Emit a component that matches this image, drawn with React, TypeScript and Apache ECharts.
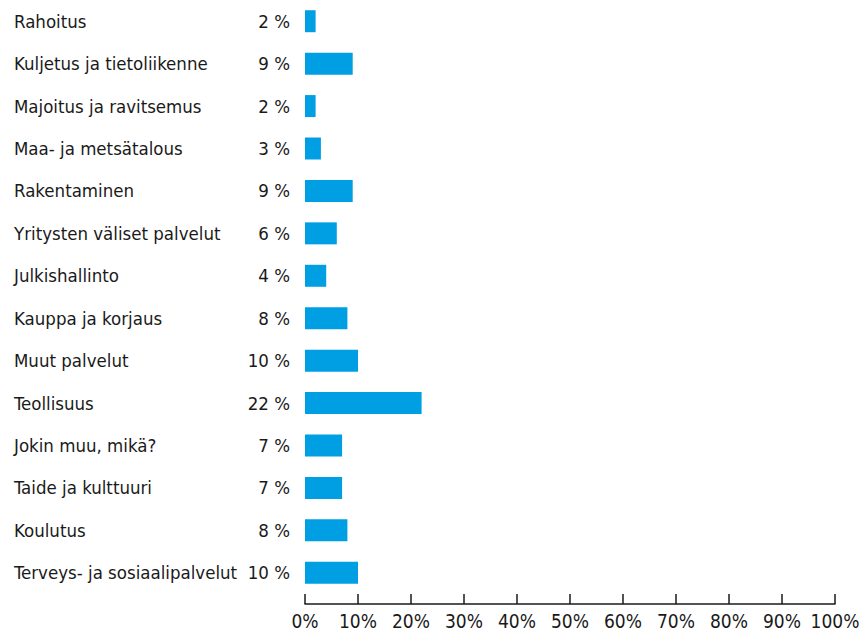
import React, { useEffect, useRef } from "react";
import * as echarts from "echarts";

const categories: string[] = [
  "Rahoitus",
  "Kuljetus ja tietoliikenne",
  "Majoitus ja ravitsemus",
  "Maa- ja metsätalous",
  "Rakentaminen",
  "Yritysten väliset palvelut",
  "Julkishallinto",
  "Kauppa ja korjaus",
  "Muut palvelut",
  "Teollisuus",
  "Jokin muu, mikä?",
  "Taide ja kulttuuri",
  "Koulutus",
  "Terveys- ja sosiaalipalvelut",
];

const values: number[] = [2, 9, 2, 3, 9, 6, 4, 8, 10, 22, 7, 7, 8, 10];

const axisMin = 0;
const axisMax = 100;
const axisStep = 10;

const FONT = '"Liberation Sans Narrow", "DejaVu Sans Condensed", "Noto Sans", sans-serif';
const TEXT = "#1a1a1a";
const BAR = "#009fe3";

export default function App() {
  const ref = useRef<HTMLDivElement>(null);

  useEffect(() => {
    if (!ref.current) return;
    const chart = echarts.init(ref.current, undefined, { renderer: "svg" });
    chart.setOption({
      animation: false,
      grid: { left: 305, right: 28, top: -3, bottom: 38, containLabel: false },
      xAxis: {
        type: "value",
        min: axisMin,
        max: axisMax,
        interval: axisStep,
        offset: 10,
        splitLine: { show: false },
        axisLine: { show: true, lineStyle: { color: TEXT, width: 1.5 } },
        axisTick: { show: true, inside: true, length: 10, lineStyle: { color: TEXT, width: 1.5 } },
        axisLabel: {
          formatter: "{value}%",
          color: TEXT,
          fontFamily: FONT,
          fontSize: 19,
          margin: 7,
        },
      },
      yAxis: {
        type: "category",
        data: categories,
        inverse: true,
        axisLine: { show: false },
        axisTick: { show: false },
        splitLine: { show: false },
        axisLabel: {
          align: "left",
          margin: 291,
          color: TEXT,
          fontFamily: FONT,
          fontSize: 18.5,
        },
      },
      series: [
        {
          type: "bar",
          data: values,
          barWidth: 22,
          itemStyle: { color: BAR },
          label: {
            show: true,
            position: "left",
            distance: 15,
            formatter: "{c} %",
            color: TEXT,
            fontFamily: FONT,
            fontSize: 18.5,
          },
        },
      ],
    });
    return () => chart.dispose();
  }, []);

  return (
    <div
      ref={ref}
      style={{ position: "fixed", left: 0, top: 0, width: 863, height: 632, background: "#fff" }}
    />
  );
}
